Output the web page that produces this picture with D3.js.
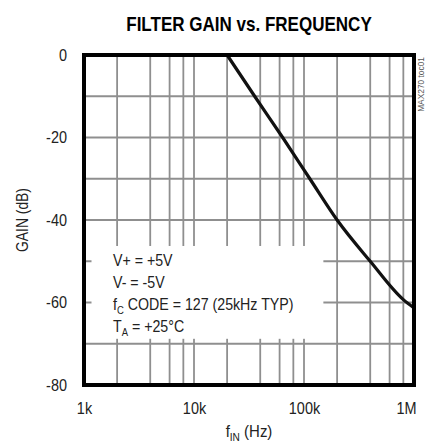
<!DOCTYPE html>
<html>
<head>
<meta charset="utf-8">
<script src="https://cdn.jsdelivr.net/npm/d3@7"></script>
<style>
  body { margin: 0; background: #fff; }
  text { font-family: "Liberation Sans", Arial, sans-serif; fill: #222; }
</style>
</head>
<body>
<div id="chart"></div>
<script>
// chart data
var freqHz = [1000, 20000, 35600, 64000, 113000, 200000, 400000, 800000, 1000000];
var gainDb = [0, 0, -10, -20, -30, -40, -50, -59.3, -61.3];

var xTickValues = [1000, 10000, 100000, 1000000];
var xTickLabels = ["1k", "10k", "100k", "1M"];
var yTickValues = [0, -20, -40, -60, -80];
var yGridValues = [-10, -20, -30, -40, -50, -60, -70];
var xGridValues = [2e3, 4e3, 6e3, 8e3, 1e4, 2e4, 4e4, 6e4, 8e4, 1e5, 2e5, 4e5, 6e5, 8e5];

var svgWidth = 425;
var svgHeight = 447;

var margin = { top: 55, right: 11, bottom: 62, left: 84 };
var chartWidth = svgWidth - margin.left - margin.right;
var chartHeight = svgHeight - margin.top - margin.bottom;

// no narrow font installed, so squeeze the glyphs to look like Helvetica Narrow
function condense(sel, k) {
  sel.each(function() {
    var w = this.getComputedTextLength();
    d3.select(this)
      .attr("textLength", w * k)
      .attr("lengthAdjust", "spacingAndGlyphs");
  });
}

var svg = d3.select("#chart")
  .append("svg")
  .attr("width", svgWidth)
  .attr("height", svgHeight);

var chartGroup = svg.append("g")
  .attr("transform", `translate(${margin.left}, ${margin.top})`);

var xScale = d3.scaleLog()
  .domain([1000, 1000000])
  .range([0, chartWidth]);

var yScale = d3.scaleLinear()
  .domain([-80, 0])
  .range([chartHeight, 0]);

// grid
chartGroup.selectAll(".vgrid")
  .data(xGridValues)
  .enter()
  .append("line")
  .attr("x1", d => xScale(d))
  .attr("x2", d => xScale(d))
  .attr("y1", 0)
  .attr("y2", chartHeight)
  .attr("stroke", "#8f8f8f")
  .attr("stroke-width", 1.8);

chartGroup.selectAll(".hgrid")
  .data(yGridValues)
  .enter()
  .append("line")
  .attr("x1", 0)
  .attr("x2", chartWidth)
  .attr("y1", d => yScale(d))
  .attr("y2", d => yScale(d))
  .attr("stroke", "#8f8f8f")
  .attr("stroke-width", 1.8);

// blank box behind the conditions text
chartGroup.append("rect")
  .attr("x", xScale(1170))
  .attr("y", yScale(-46.3))
  .attr("width", xScale(150000) - xScale(1170))
  .attr("height", yScale(-68.8) - yScale(-46.3))
  .attr("fill", "#fff");

// curve: flat passband, then a smooth roll-off from the corner
var points = freqHz.map((f, i) => [f, gainDb[i]]);

var flatLine = d3.line()
  .x(d => xScale(d[0]))
  .y(d => yScale(d[1]));

var rollLine = d3.line()
  .x(d => xScale(d[0]))
  .y(d => yScale(d[1]))
  .curve(d3.curveMonotoneX);

[[flatLine, points.slice(0, 2)], [rollLine, points.slice(1)]].forEach(function(p) {
  chartGroup.append("path")
    .datum(p[1])
    .attr("d", p[0])
    .attr("fill", "none")
    .attr("stroke", "#111")
    .attr("stroke-width", 3.2)
    .attr("stroke-linejoin", "round")
    .attr("stroke-linecap", "round");
});

// frame
chartGroup.append("rect")
  .attr("x", 0)
  .attr("y", 0)
  .attr("width", chartWidth)
  .attr("height", chartHeight)
  .attr("fill", "none")
  .attr("stroke", "#000")
  .attr("stroke-width", 4);

// axes
var bottomAxis = d3.axisBottom(xScale)
  .tickValues(xTickValues)
  .tickFormat((d, i) => xTickLabels[i])
  .tickSize(0)
  .tickPadding(17);

var leftAxis = d3.axisLeft(yScale)
  .tickValues(yTickValues)
  .tickFormat(d => String(d))
  .tickSize(0)
  .tickPadding(17);

var xAxisG = chartGroup.append("g")
  .attr("transform", `translate(0, ${chartHeight})`)
  .call(bottomAxis);

var yAxisG = chartGroup.append("g")
  .call(leftAxis);

[xAxisG, yAxisG].forEach(function(g) {
  g.select(".domain").remove();
  g.attr("font-family", null).attr("font-size", null);
  g.selectAll("text")
    .style("font-size", "17px")
    .attr("fill", "#222");
  condense(g.selectAll("text"), 0.85);
});

// last x label sits inside the right edge
xAxisG.selectAll(".tick text")
  .filter(d => d === 1000000)
  .attr("text-anchor", "end")
  .attr("dx", 2);

// title
var title = svg.append("text")
  .attr("x", 249)
  .attr("y", 31)
  .attr("text-anchor", "middle")
  .style("font-size", "20.5px")
  .style("font-weight", "bold")
  .style("fill", "#000")
  .text("FILTER GAIN vs. FREQUENCY");
condense(title, 0.83);

// axis titles
var xTitle = svg.append("text")
  .attr("x", margin.left + chartWidth / 2)
  .attr("y", 437)
  .attr("text-anchor", "middle")
  .style("font-size", "17px");
xTitle.append("tspan").text("f");
xTitle.append("tspan").attr("dy", 4).style("font-size", "11.5px").text("IN");
xTitle.append("tspan").attr("dy", -4).text(" (Hz)");
condense(xTitle, 0.88);

var yTitle = svg.append("text")
  .attr("transform", `translate(28, ${margin.top + chartHeight / 2}) rotate(-90)`)
  .attr("text-anchor", "middle")
  .style("font-size", "16.5px")
  .text("GAIN (dB)");
condense(yTitle, 0.84);

// figure id
var figId = svg.append("text")
  .attr("transform", "translate(424, 57) rotate(-90)")
  .attr("text-anchor", "end")
  .style("font-size", "9.5px")
  .style("fill", "#555")
  .text("MAX270 toc01");
condense(figId, 0.88);

// conditions
var notes = chartGroup.append("g")
  .attr("transform", "translate(29, 0)")
  .style("font-size", "16.5px");

notes.append("text").attr("y", 211).text("V+ = +5V");
notes.append("text").attr("y", 233).text("V- = -5V");

var fc = notes.append("text").attr("y", 255);
fc.append("tspan").text("f");
fc.append("tspan").attr("dy", 4).style("font-size", "11px").text("C");
fc.append("tspan").attr("dy", -4).text(" CODE = 127 (25kHz TYP)");

var ta = notes.append("text").attr("y", 277);
ta.append("tspan").text("T");
ta.append("tspan").attr("dy", 4).style("font-size", "11px").text("A");
ta.append("tspan").attr("dy", -4).text(" = +25\u00B0C");

condense(notes.selectAll("text"), 0.86);
</script>
</body>
</html>
